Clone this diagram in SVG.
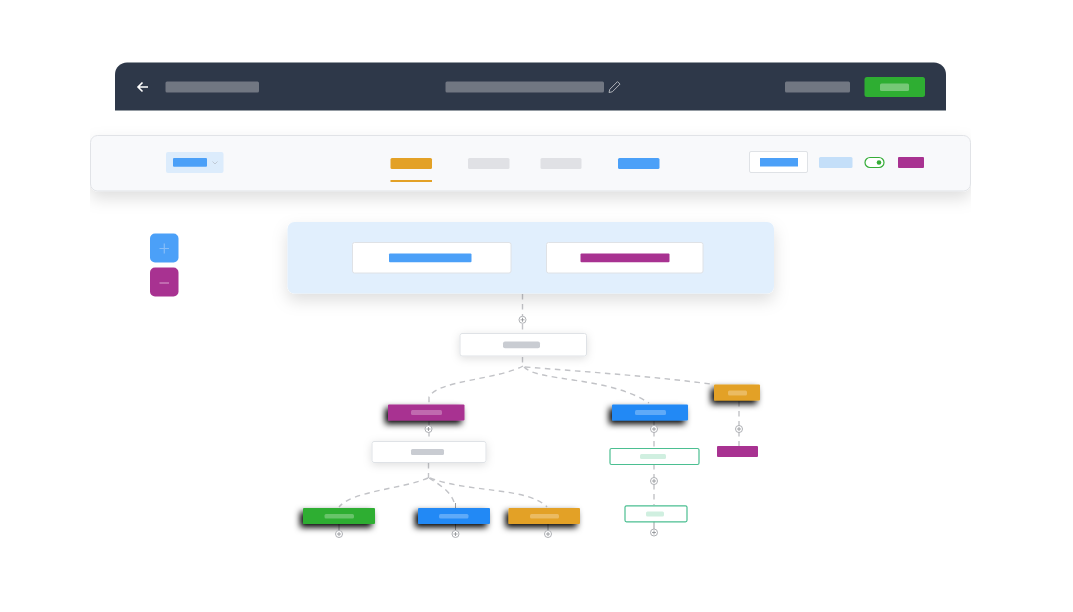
<svg xmlns="http://www.w3.org/2000/svg" width="1073" height="612" viewBox="0 0 1073 612">
<style>
.hb{fill:#717782}
.c{fill:none;stroke:#c2c3c7;stroke-width:1.400;stroke-dasharray:5.500 4.500}
.s{fill:none;stroke:#9a9c9f;stroke-width:1}
.p circle{fill:#fff;stroke:#a5a7ab;stroke-width:.9}
.p path{fill:none;stroke:#8b8e92;stroke-width:.8}
.w{fill:#fff;stroke:#dfe2e6;stroke-width:1}
.g{fill:#c9ccd2}
.o{fill:#fff;stroke:#4bbf91;stroke-width:1.200}
.m{fill:#d0efe0}
.l{fill:#fff;fill-opacity:.28}
.d{filter:url(#dark)}
</style>
<defs>
<filter id="soft" x="-10%" y="-60%" width="120%" height="260%"><feDropShadow dx="0" dy="7" stdDeviation="8" flood-color="#000" flood-opacity=".13"/></filter>
<filter id="small" x="-20%" y="-60%" width="140%" height="260%"><feDropShadow dx="0" dy="2" stdDeviation="4" flood-color="#000" flood-opacity=".13"/></filter>
<filter id="dark" x="-25%" y="-80%" width="150%" height="300%"><feDropShadow dx="-3" dy="3.500" stdDeviation="3" flood-color="#000" flood-opacity="1"/></filter>
<filter id="haze" x="0" y="0" width="100%" height="100%"><feGaussianBlur stdDeviation=".4"/></filter>
</defs>
<rect width="1073" height="612" fill="#fff"/>
<g id="diagram" filter="url(#haze)">

<g id="header">
<path d="M115 110.500V74.500A12 12 0 0 1 127 62.500H934A12 12 0 0 1 946 74.500V110.500Z" fill="#2e3849"/>
<path d="M148 87H138.500M142.500 82.500L138 87L142.500 91.500" fill="none" stroke="#fff" stroke-width="1.600"/>
<rect class="hb" x="165.500" y="81.500" width="93.500" height="11" rx="1.500"/>
<rect class="hb" x="445.500" y="81.500" width="158.500" height="11" rx="1.500"/>
<path d="M609 92.500L609.800 89.300L617.500 81.600L620 84.100L612.300 91.800Z" fill="none" stroke="#aeb2b8" stroke-width="1"/>
<rect class="hb" x="785" y="81.500" width="65" height="11" rx="1.500"/>
<rect x="864.500" y="77" width="60.500" height="20" rx="2.500" fill="#2fae32"/>
<rect x="880" y="83.500" width="29" height="7.500" rx="1.500" fill="#74c876"/>
</g>

<g id="toolbar">
<rect x="90.500" y="135.500" width="880" height="55.500" rx="7" fill="#f8f9fb" stroke="#e1e3e7" filter="url(#soft)"/>
<rect x="166" y="152" width="57.500" height="21" rx="2" fill="#dcecfc"/>
<rect x="173" y="158" width="34" height="8.700" rx="1" fill="#4ca0f8"/>
<path d="M212.500 161.500L215 164L217.500 161.500" fill="none" stroke="#b9c2cc" stroke-width=".8"/>
<rect x="390.500" y="158" width="41.500" height="11" rx="1.500" fill="#e3a126"/>
<rect x="390.500" y="180" width="41.500" height="2" fill="#e3a126"/>
<rect x="468" y="158" width="41.500" height="11" rx="1.500" fill="#e0e1e5"/>
<rect x="540.500" y="158" width="41" height="11" rx="1.500" fill="#e0e1e5"/>
<rect x="618" y="158" width="41.500" height="11" rx="1.500" fill="#4ca0f8"/>
<rect x="749.500" y="151.500" width="58" height="21" rx="1.500" class="w"/>
<rect x="760" y="158" width="38" height="8.500" fill="#4ca0f8"/>
<rect x="819" y="157" width="33.500" height="11" rx="1.500" fill="#c4dff9"/>
<rect x="865" y="157.500" width="19" height="10" rx="5" fill="#fff" stroke="#34ad37" stroke-width="1.200"/>
<circle cx="879" cy="162.500" r="2.300" fill="#34ad37"/>
<rect x="898" y="157" width="26" height="11" rx="1" fill="#a83291"/>
</g>

<g id="zoom-in">
<rect x="150" y="233.500" width="28.500" height="29" rx="5" fill="#4ca0f8"/>
<path d="M164.300 243.500V253.500M159.500 248.500H169" stroke="#86bdf8" stroke-width="1.200"/>
</g>
<g id="zoom-out">
<rect x="150" y="267.500" width="28.500" height="29" rx="5" fill="#a83291"/>
<path d="M159.500 283H169" stroke="#cf8cc2" stroke-width="1.300"/>
</g>

<g id="connectors">
<path class="c" d="M522.500 294V333"/>
<path class="c" d="M522.500 357V366"/>
<path class="c" d="M523 366C497 380 438 380 429 397V404"/>
<path class="c" d="M524 367C538 382 608 376 649 403"/>
<path class="c" d="M525 367C590 372 660 377 714 384.500"/>
<path class="c" d="M429 421V441"/>
<path class="c" d="M654 421V448"/>
<path class="c" d="M654 464V505"/>
<path class="c" d="M739 401V446"/>
<path class="c" d="M428.500 463V478"/>
<path class="c" d="M428 478C402 489 352 491 339 507"/>
<path class="c" d="M429 478C440 485 450 491 454 502"/>
<path class="c" d="M430 478C470 493 528 487 547 507"/>
<path class="s" d="M339 524V530M455.500 524V530M548 524V530M455.500 503V508M654 521V529"/>
</g>

<g id="panel">
<rect x="287.500" y="222" width="486.500" height="71.500" rx="7" fill="#e1effd" filter="url(#soft)"/>
</g>
<g id="panel-node-1">
<rect x="352.500" y="242.500" width="158.500" height="30.500" rx="2" class="w"/>
<rect x="389" y="253.500" width="82.500" height="8.700" rx="1" fill="#4ca0f8"/>
</g>
<g id="panel-node-2">
<rect x="546.500" y="242.500" width="156.500" height="30.500" rx="2" class="w"/>
<rect x="580.500" y="253.500" width="89" height="8.700" rx="1" fill="#a83291"/>
</g>

<g id="root-node">
<rect x="460" y="333.500" width="126.500" height="22.500" rx="2" class="w" filter="url(#small)"/>
<rect class="g" x="503" y="341.500" width="37" height="6.800" rx="2"/>
</g>
<g id="node-purple">
<rect class="d" x="388" y="404.500" width="76.500" height="16" rx="1" fill="#a83291"/>
<rect class="l" x="411" y="410" width="31" height="5" rx="1.500"/>
</g>
<g id="node-blue">
<rect class="d" x="612" y="404.500" width="76" height="16" rx="1" fill="#2189f5"/>
<rect class="l" x="635" y="410" width="31" height="5" rx="1.500"/>
</g>
<g id="node-orange-small">
<rect class="d" x="714" y="384.500" width="46" height="16" rx="1" fill="#e3a126"/>
<rect class="l" x="728" y="390.500" width="19" height="5" rx="1.500"/>
</g>
<g id="node-purple-flat">
<rect x="717" y="446" width="41" height="11" rx="1" fill="#a83291"/>
</g>
<g id="node-white">
<rect x="372" y="441.500" width="114" height="21" rx="2" class="w" filter="url(#small)"/>
<rect class="g" x="411" y="449" width="33" height="6" rx="1.500"/>
</g>
<g id="node-outline-1">
<rect x="610" y="448.500" width="89" height="16" rx="1.500" class="o"/>
<rect class="m" x="640" y="454" width="26" height="5" rx="1.500"/>
</g>
<g id="node-outline-2">
<rect x="625" y="505.800" width="62" height="16" rx="1.500" class="o"/>
<rect class="m" x="646" y="511.500" width="18" height="5" rx="1.500"/>
</g>
<g id="node-green">
<rect class="d" x="303" y="508" width="72" height="16" rx="1" fill="#2fae32"/>
<rect class="l" x="324.500" y="514" width="29.500" height="4.500" rx="1.500"/>
</g>
<g id="node-blue-2">
<rect class="d" x="418" y="508" width="72" height="16" rx="1" fill="#2189f5"/>
<rect class="l" x="439" y="514" width="29.500" height="4.500" rx="1.500"/>
</g>
<g id="node-orange">
<rect class="d" x="508.500" y="508" width="71.500" height="16" rx="1" fill="#e3a126"/>
<rect class="l" x="530" y="514" width="29" height="4.500" rx="1.500"/>
</g>

<g id="plus-1" class="p"><circle cx="522.500" cy="319.800" r="3.500"/><path d="M520.500 319.800H524.500M522.500 317.800V321.800"/></g>
<g id="plus-2" class="p"><circle cx="428.500" cy="429" r="3.500"/><path d="M426.500 429H430.500M428.500 427V431"/></g>
<g id="plus-3" class="p"><circle cx="654" cy="429" r="3.500"/><path d="M652 429H656M654 427V431"/></g>
<g id="plus-4" class="p"><circle cx="739" cy="429" r="3.500"/><path d="M737 429H741M739 427V431"/></g>
<g id="plus-5" class="p"><circle cx="654" cy="481" r="3.500"/><path d="M652 481H656M654 479V483"/></g>
<g id="plus-6" class="p"><circle cx="339" cy="534" r="3.500"/><path d="M337 534H341M339 532V536"/></g>
<g id="plus-7" class="p"><circle cx="455.500" cy="534" r="3.500"/><path d="M453.500 534H457.500M455.500 532V536"/></g>
<g id="plus-8" class="p"><circle cx="548" cy="534" r="3.500"/><path d="M546 534H550M548 532V536"/></g>
<g id="plus-9" class="p"><circle cx="654" cy="532.500" r="3.500"/><path d="M652 532.500H656M654 530.500V534.500"/></g>
</g>
</svg>
